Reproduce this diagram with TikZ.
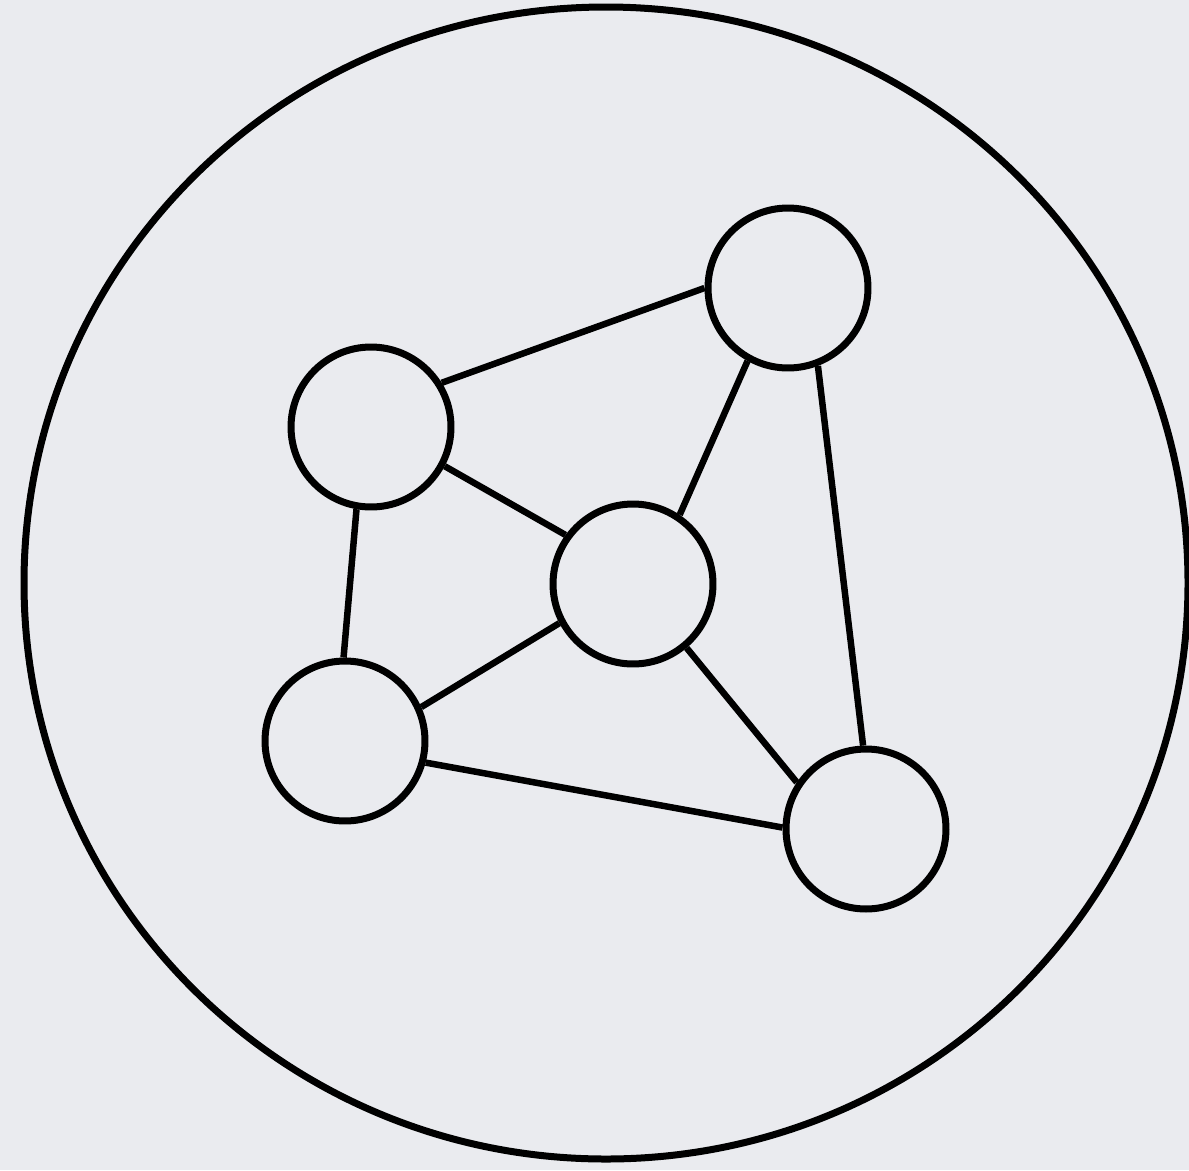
\documentclass[tikz,border=0pt]{standalone}
\usepackage{xcolor}
\usepackage{tikz}
\usetikzlibrary{positioning}
\definecolor{paper}{HTML}{EAEBEF}
\definecolor{ink}{HTML}{000000}

\begin{document}
\begin{tikzpicture}[
  x=0.02cm, y=-0.02cm,
  vertex/.style={circle, draw=ink, line width=0.14cm, minimum size=3.2cm, inner sep=0pt},
  link/.style={draw=ink, line width=0.13cm}
]
\useasboundingbox[fill=paper] (0,0) rectangle (1189,1170);
% outer boundary
\draw[ink, line width=0.14cm] (606,583) ellipse [x radius=582, y radius=576];
% graph vertices
\node[vertex] (top)    at (788,288) {};
\node[vertex] (left)   at (371,427) {};
\node[vertex] (mid)    at (633,584) {};
\node[vertex] (bottom) at (345,741) {};
\node[vertex] (right)  at (866,829) {};
% edges (border angles)
\foreach \a/\b in {left.32/top.180, left.-28/mid.144, mid.56/top.-119, top.-69/right.92,
                   left.-100/bottom.91, bottom.24/mid.-152, mid.-50/right.146, bottom.-15/right.179}
  \draw[link] (\a) -- (\b);
\end{tikzpicture}
\end{document}
